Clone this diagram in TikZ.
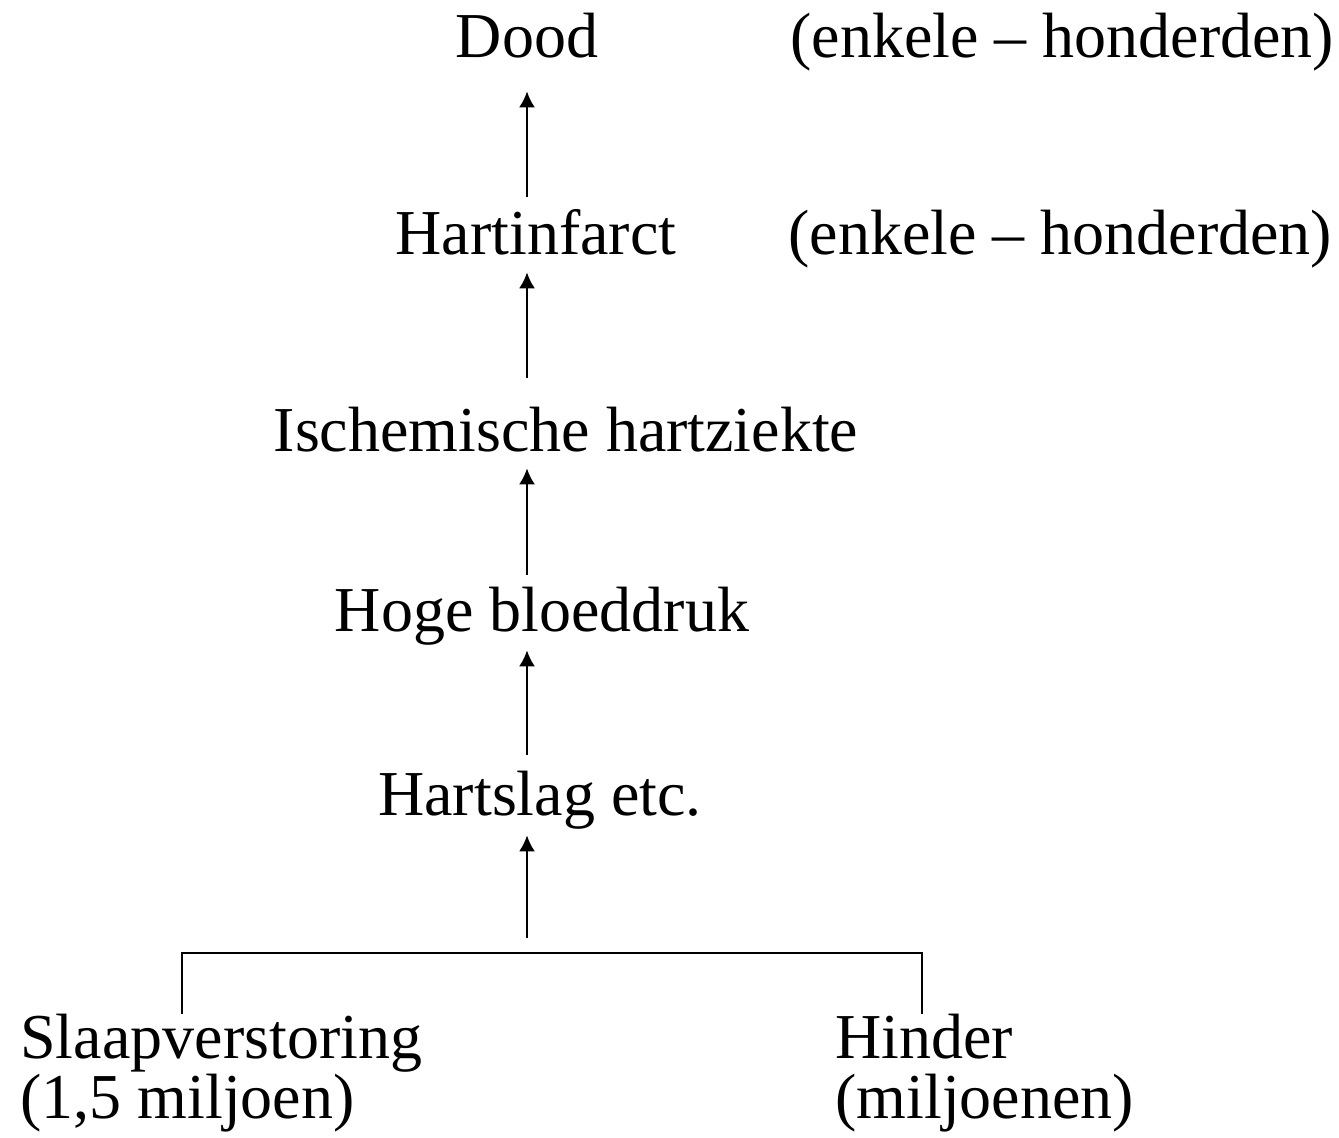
\documentclass[tikz,border=0pt]{standalone}
\usepackage{fontspec}
\setmainfont{Liberation Serif}
\usetikzlibrary{arrows.meta}
\tikzset{
  txt/.style={font=\fontsize{32}{32}\selectfont, inner sep=0pt, text height=20pt, text depth=6.5pt},
  arr/.style={line width=1pt, -{Latex[length=8pt,width=8pt]}}
}
\begin{document}
\begin{tikzpicture}[x=0.5pt,y=-0.5pt]
  \useasboundingbox (0,0) rectangle (1339,1138);
  \node[txt,anchor=base] (dood) at (527,58) {Dood};
  \node[txt,anchor=base west] (doodn) at (790,58) {(enkele – honderden)};
  \node[txt,anchor=base] (infarct) at (536,255) {Hartinfarct};
  \node[txt,anchor=base west] (infarctn) at (788,255) {(enkele – honderden)};
  \node[txt,anchor=base] (ischemie) at (566,452) {Ischemische hartziekte};
  \node[txt,anchor=base] (bloeddruk) at (542,632) {Hoge bloeddruk};
  \node[txt,anchor=base] (hartslag) at (540,815) {Hartslag etc.};
  \node[txt,anchor=base west] (slaap) at (20,1058) {Slaapverstoring};
  \node[txt,anchor=base west] (slaapn) at (20,1118) {(1,5 miljoen)};
  \node[txt,anchor=base west] (hinder) at (835,1058) {Hinder};
  \node[txt,anchor=base west] (hindern) at (835,1118) {(miljoenen)};
  \coordinate (join) at (527,953);
  % bracket
  \draw[line width=1pt] ([xshift=-19.5pt,yshift=2pt]slaap.north) |- (join) -| ([xshift=-1pt,yshift=2pt]hinder.north);
  % arrows
  \draw[arr,shorten <=7.5pt,shorten >=3.5pt] (join) -- (hartslag.south -| join);
  \draw[arr,shorten <=10pt,shorten >=2.5pt] (hartslag.north -| join) -- (bloeddruk.south -| join);
  \draw[arr,shorten <=8.5pt,shorten >=1.5pt] (bloeddruk.north -| join) -- (ischemie.south -| join);
  \draw[arr,shorten <=17pt,shorten >=2pt] (ischemie.north -| join) -- (infarct.south -| join);
  \draw[arr,shorten <=9pt,shorten >=10pt] (infarct.north -| join) -- (dood.south -| join);
\end{tikzpicture}
\end{document}
